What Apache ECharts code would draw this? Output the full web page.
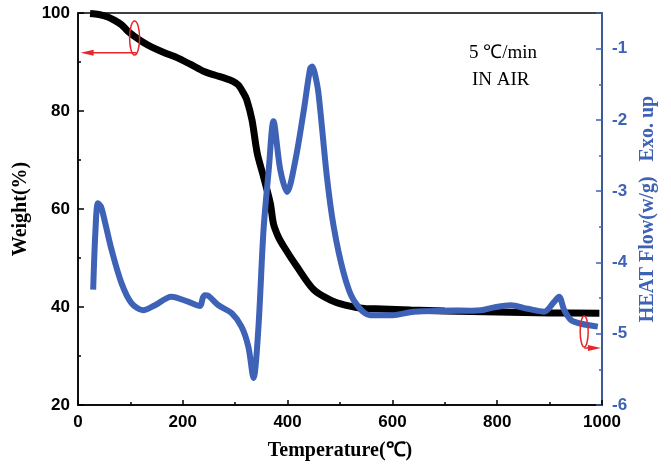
<!DOCTYPE html>
<html>
<head>
<meta charset="utf-8">
<script src="https://cdn.jsdelivr.net/npm/echarts@6/dist/echarts.min.js"></script>
<style>
  html, body { margin: 0; padding: 0; background: #fff; }
  #chart { width: 671px; height: 473px; }
</style>
</head>
<body>
<div id="chart"></div>
<script>
// TGA weight curve (temperature in C, weight in %)
const weightTemp = [23, 40, 57, 70, 83, 95, 108, 125, 140, 165, 191, 215, 242, 262, 280, 295, 306, 316, 322, 332, 342, 354, 367, 373, 382, 393, 418, 450, 482, 510, 546, 580, 635, 700, 800, 900, 995]
const weightVals = [99.9, 99.7, 99.2, 98.5, 97.6, 96.3, 95.2, 94.0, 93.1, 91.9, 90.8, 89.5, 88.0, 87.3, 86.7, 86.1, 85.3, 83.6, 82.3, 78.2, 71.4, 66.6, 61.2, 57.0, 54.4, 52.3, 48.2, 43.5, 41.4, 40.4, 39.7, 39.6, 39.4, 39.2, 39.0, 38.8, 38.7]

// DSC heat flow curve (temperature in C, heat flow in w/g)
const heatTemp = [29, 33, 38, 44, 52, 64, 83, 102, 124, 147, 178, 210, 233, 238, 242, 249, 268, 293, 312, 325, 335, 344, 354, 364, 373, 386, 399, 415, 431, 443, 447, 452, 459, 475, 488, 507, 526, 558, 600, 641, 705, 769, 794, 826, 858, 890, 909, 918, 928, 941, 960, 992]
const heatVals = [-4.38, -3.6, -3.17, -3.22, -3.45, -3.82, -4.29, -4.57, -4.67, -4.60, -4.48, -4.55, -4.61, -4.50, -4.46, -4.47, -4.60, -4.71, -4.90, -5.18, -5.62, -4.95, -3.55, -2.70, -2.02, -2.70, -3.01, -2.56, -1.86, -1.28, -1.25, -1.35, -1.63, -2.80, -3.50, -4.15, -4.53, -4.74, -4.74, -4.69, -4.68, -4.67, -4.63, -4.60, -4.65, -4.69, -4.55, -4.48, -4.67, -4.81, -4.86, -4.90]

const BLUE = '#3d62b6'
const RED = '#e8262a'
const sans = 'Liberation Sans'
const serif = 'Liberation Serif'

const chart = echarts.init(document.getElementById('chart'))

function pairs(xs, ys) {
  return xs.map((x, i) => [x, ys[i]])
}

chart.setOption({
  animation: false,
  grid: {
    left: 78, right: 69, top: 13, bottom: 68,
    show: true, borderColor: '#000', borderWidth: 1.5
  },
  xAxis: {
    type: 'value',
    min: 0, max: 1000, interval: 200,
    name: 'Temperature(℃)',
    nameLocation: 'middle',
    nameGap: 36,
    nameTextStyle: { fontFamily: serif, fontWeight: 'bold', fontSize: 20, color: '#000' },
    axisLine: { lineStyle: { color: '#000', width: 1.5 } },
    axisTick: { inside: true, length: 5, lineStyle: { color: '#000', width: 1.5 } },
    minorTick: { show: true, splitNumber: 2, length: 3, lineStyle: { color: '#000', width: 1.5 } },
    axisLabel: { fontFamily: sans, fontWeight: 'bold', fontSize: 17, color: '#000', margin: 9, formatter: v => String(v) },
    splitLine: { show: false }
  },
  yAxis: [
    {
      type: 'value',
      min: 20, max: 100, interval: 20,
      name: 'Weight(%)',
      nameLocation: 'middle',
      nameRotate: 90,
      nameGap: 46,
      nameTextStyle: { fontFamily: serif, fontWeight: 'bold', fontSize: 20, color: '#000' },
      axisLine: { show: true, lineStyle: { color: '#000', width: 1.5 } },
      axisTick: { inside: true, length: 6, lineStyle: { color: '#000', width: 1.5 } },
      minorTick: { show: true, splitNumber: 2, length: 3, lineStyle: { color: '#000', width: 1.5 } },
      axisLabel: { fontFamily: sans, fontWeight: 'bold', fontSize: 17, color: '#000', margin: 8 },
      splitLine: { show: false }
    },
    {
      type: 'value',
      position: 'right',
      min: -6, max: -0.5, interval: 1,
      name: 'HEAT Flow(w/g)   Exo. up',
      nameLocation: 'middle',
      nameRotate: 90,
      nameGap: 31,
      nameTextStyle: { fontFamily: serif, fontWeight: 'bold', fontSize: 20, color: BLUE },
      axisLine: { show: true, lineStyle: { color: BLUE, width: 1.5 } },
      axisTick: { inside: true, length: 6, lineStyle: { color: BLUE, width: 1.5 } },
      minorTick: { show: true, splitNumber: 2, length: 3, lineStyle: { color: BLUE, width: 1.5 } },
      axisLabel: { fontFamily: sans, fontWeight: 'bold', fontSize: 17, color: BLUE, margin: 10, showMaxLabel: false },
      splitLine: { show: false }
    }
  ],
  series: [
    {
      name: 'Weight',
      type: 'line',
      yAxisIndex: 0,
      data: pairs(weightTemp, weightVals),
      smooth: 0.3,
      symbol: 'none',
      lineStyle: { color: '#000', width: 7 }
    },
    {
      name: 'Heat flow',
      type: 'line',
      yAxisIndex: 1,
      data: pairs(heatTemp, heatVals),
      smooth: 0.3,
      symbol: 'none',
      lineStyle: { color: BLUE, width: 6 }
    }
  ]
})

// annotations: marker ellipses with arrows pointing at the axis each curve belongs to
const e1 = chart.convertToPixel({ seriesIndex: 0 }, [108, 94.9])
const a1 = chart.convertToPixel({ seriesIndex: 0 }, [5, 91.9])
const e2 = chart.convertToPixel({ seriesIndex: 1 }, [966, -4.97])
const a2 = chart.convertToPixel({ seriesIndex: 1 }, [998, -5.2])

const red = { stroke: RED, lineWidth: 1.5, fill: null }

chart.setOption({
  graphic: [
    { type: 'ellipse', shape: { cx: e1[0], cy: e1[1], rx: 5, ry: 17 }, style: red, z: 10 },
    { type: 'line', shape: { x1: e1[0] + 2, y1: a1[1], x2: a1[0] + 8, y2: a1[1] }, style: { stroke: RED, lineWidth: 1.5 }, z: 10 },
    { type: 'polygon', shape: { points: [[a1[0], a1[1]], [a1[0] + 13, a1[1] - 3], [a1[0] + 13, a1[1] + 3]] }, style: { fill: RED }, z: 10 },
    { type: 'ellipse', shape: { cx: e2[0], cy: e2[1], rx: 4, ry: 15.5 }, style: red, z: 10 },
    { type: 'line', shape: { x1: e2[0], y1: a2[1], x2: a2[0] - 8, y2: a2[1] }, style: { stroke: RED, lineWidth: 1.5 }, z: 10 },
    { type: 'polygon', shape: { points: [[a2[0], a2[1]], [a2[0] - 13, a2[1] - 3], [a2[0] - 13, a2[1] + 3]] }, style: { fill: RED }, z: 10 },
    { type: 'text', left: 469, top: 44, style: { text: '5 ℃/min', font: '19px "Liberation Serif"', fill: '#000' } },
    { type: 'text', left: 472, top: 71, style: { text: 'IN AIR', font: '19px "Liberation Serif"', fill: '#000' } }
  ]
})
</script>
</body>
</html>
